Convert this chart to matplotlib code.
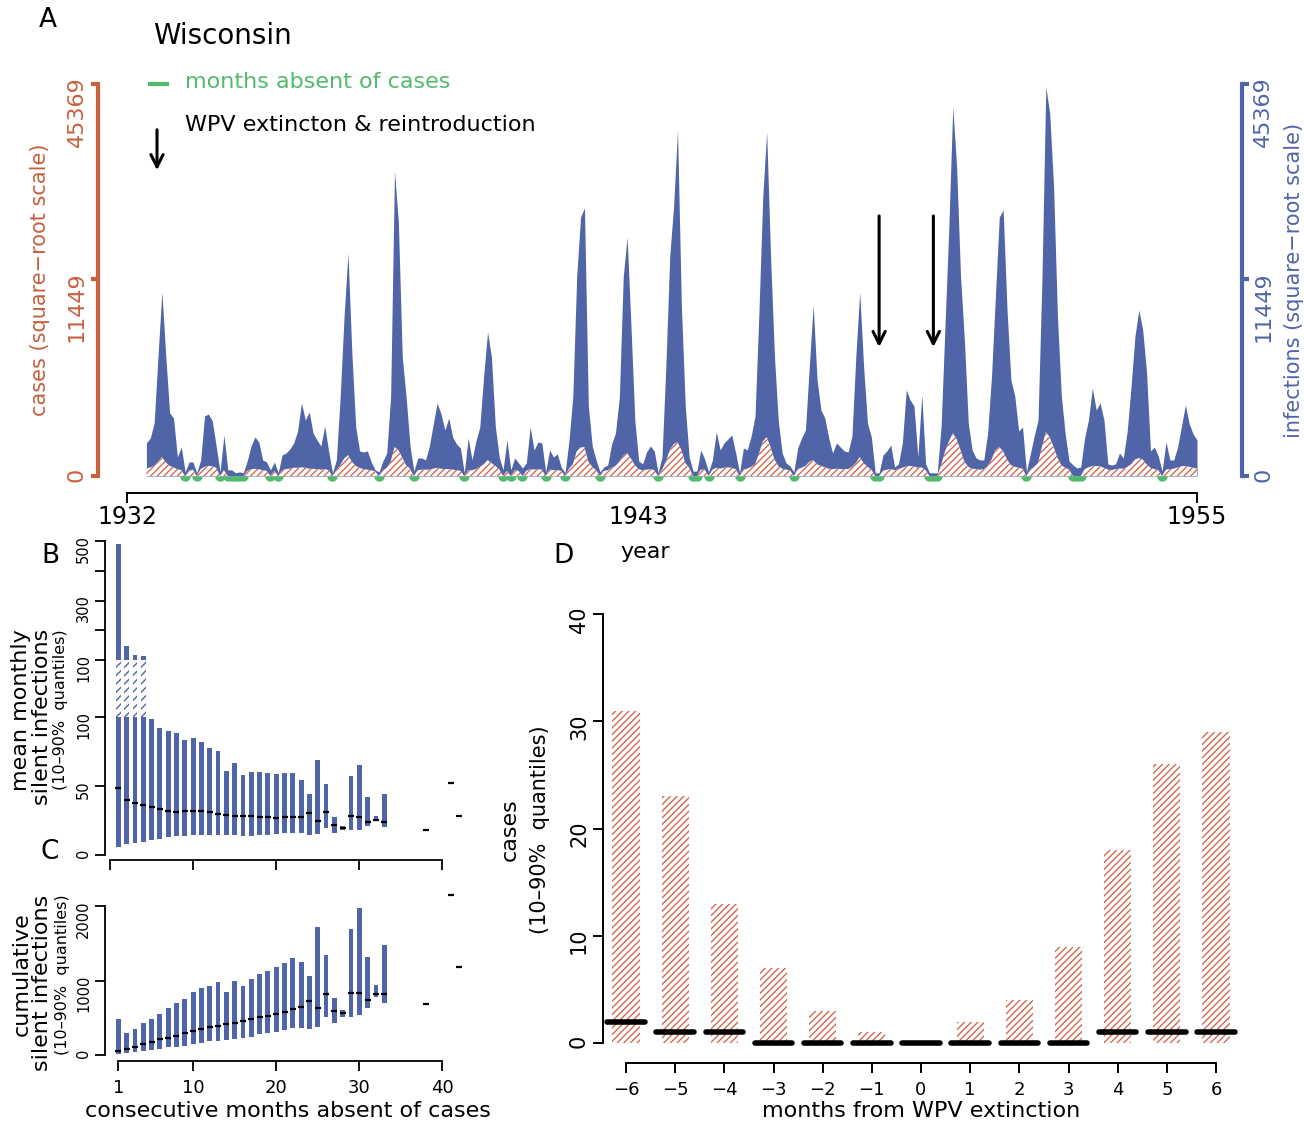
import numpy as np
import matplotlib
matplotlib.use('Agg')
import matplotlib.pyplot as plt
from matplotlib.lines import Line2D

plt.rcParams['font.family'] = ['DejaVu Sans']
plt.rcParams['hatch.linewidth'] = 1.0

# ---------------- data ----------------
state = "Wisconsin"
start_year = 1932
start_month = 6  # first month of the monthly series (June 1932)

infections = [
    322, 426, 830, 4252, 9998, 4252, 1172, 993, 107, 248, 5, 58,
    58, 3, 76, 1063, 1135, 893, 266, 5, 496, 11, 11, 3,
    5, 3, 66, 266, 449, 341, 76, 58, 11, 58, 3, 130,
    156, 215, 322, 598, 1574, 926, 1210, 546, 383, 266, 738, 185,
    3, 76, 1890, 7560, 14686, 4468, 709, 185, 170, 185, 58, 11,
    5, 66, 156, 1843, 27470, 19000, 4182, 1843, 266, 7, 96, 96,
    76, 266, 799, 1574, 1135, 625, 993, 449, 302, 232, 3, 426,
    76, 362, 709, 2953, 6123, 4182, 738, 107, 11, 383, 11, 96,
    50, 19, 50, 709, 200, 341, 322, 5, 200, 107, 143, 24,
    3, 362, 1890, 11812, 19809, 21209, 1447, 266, 76, 5, 24, 36,
    302, 546, 1843, 11694, 16867, 6644, 893, 66, 43, 170, 266, 185,
    3, 107, 3573, 14293, 21527, 35352, 8534, 1447, 107, 7, 7, 200,
    85, 5, 76, 572, 200, 322, 404, 496, 156, 3, 232, 200,
    472, 1063, 7846, 23151, 34945, 14293, 4252, 893, 156, 50, 30, 5,
    232, 426, 625, 3573, 8635, 2722, 1286, 993, 426, 156, 322, 248,
    185, 170, 472, 4252, 9998, 3573, 830, 449, 3, 3, 130, 185,
    284, 24, 43, 322, 2184, 1706, 1447, 107, 1937, 43, 3, 3,
    3, 738, 6644, 18456, 40209, 28196, 11812, 5462, 830, 200, 96, 76,
    76, 546, 2953, 9567, 19809, 20894, 8137, 2722, 1890, 598, 709, 5,
    143, 472, 926, 11344, 44686, 38912, 24835, 7560, 1890, 521, 66, 36,
    19, 24, 426, 926, 2287, 1286, 1574, 926, 43, 36, 43, 156,
    96, 598, 2392, 5788, 8137, 6295, 3133, 185, 248, 118, 7, 341,
    76, 76, 248, 738, 1489, 799, 521, 383,
]

cases = [
    16, 22, 30, 60, 107, 55, 30, 22, 14, 10, 0, 8,
    12, 0, 14, 25, 30, 28, 20, 0, 10, 0, 0, 0,
    0, 0, 8, 14, 15, 14, 10, 8, 0, 8, 0, 10,
    14, 16, 20, 20, 22, 20, 16, 15, 14, 12, 14, 10,
    0, 10, 35, 90, 130, 60, 30, 20, 14, 12, 10, 6,
    0, 10, 20, 60, 248, 200, 100, 35, 16, 0, 10, 12,
    12, 12, 16, 20, 16, 14, 14, 12, 10, 8, 0, 10,
    10, 14, 25, 40, 76, 50, 30, 14, 0, 8, 0, 10,
    8, 0, 8, 14, 12, 14, 12, 0, 12, 10, 10, 8,
    0, 16, 40, 180, 240, 248, 60, 25, 10, 0, 8, 10,
    20, 30, 60, 120, 156, 90, 35, 14, 10, 12, 14, 10,
    0, 12, 60, 200, 300, 341, 200, 50, 20, 0, 0, 12,
    12, 0, 12, 20, 16, 20, 22, 20, 14, 0, 12, 16,
    25, 40, 150, 350, 449, 250, 80, 30, 16, 12, 10, 0,
    14, 20, 30, 60, 76, 40, 30, 22, 16, 14, 16, 14,
    14, 14, 25, 50, 107, 50, 25, 12, 0, 0, 8, 12,
    14, 10, 14, 20, 28, 30, 26, 20, 22, 10, 0, 0,
    0, 35, 180, 350, 546, 400, 200, 60, 25, 16, 14, 12,
    14, 30, 80, 200, 248, 180, 80, 35, 25, 20, 16, 0,
    12, 25, 50, 250, 572, 450, 250, 100, 35, 20, 12, 0,
    0, 0, 14, 22, 30, 30, 28, 20, 12, 10, 14, 16,
    16, 25, 40, 80, 96, 80, 40, 20, 14, 10, 0, 12,
    14, 16, 22, 28, 30, 25, 20, 16,
]

wpv_event_index = [189, 203]          # months of WPV extinction & reintroduction
axis_ticks_A = [0, 11449, 45369]
year_ticks = [1932, 1943, 1955]

# panel B / C : runs of consecutive months absent of cases
run_months = list(range(1, 34)) + [38, 41, 42]
mean_q10 = [5.8, 7.8, 8.7, 9.7, 10.7, 11.7, 13.1, 13.6, 13.6, 14.6, 14.6, 14.6, 14.6, 14.6, 14.6,
            13.6, 13.6, 14.6, 14.6, 15.5, 16, 16, 16.3, 14.6, 15, 19.9, 15.8, 18.2, 18.4, 18,
            20.9, 24.3, 20.6, 18, 52.2, 28.2]
mean_q90 = [490, 147, 117, 113, 98.3, 92.2, 89.8, 88.3, 83.5, 84.7, 81.6, 77.7, 75.5, 60.7, 66.7,
            58, 60, 60.4, 59.5, 58.5, 59.2, 59.2, 54.6, 44.2, 68.9, 51.5, 27.7, 21.1, 57.5, 65.3,
            41.7, 28.4, 44.2, 18, 52.2, 28.2]
mean_med = [48.5, 39.8, 37.4, 35.9, 34.7, 33, 32, 30.8, 32, 32, 32, 30.8, 29.6, 28.9, 27.9,
            28.4, 27.9, 27.7, 27.2, 26.7, 27.2, 27.7, 27.7, 30.6, 24.8, 30.8, 21.8, 19.9, 28.4, 27.7,
            23.8, 25.2, 24, 18, 52.2, 28.2]

cum_q10 = [13, 31, 45, 58, 67, 76, 103, 112, 121, 148, 166, 184, 193, 202, 215, 224, 247, 283,
           291, 314, 336, 359, 359, 345, 381, 516, 435, 507, 516, 538, 637, 785, 695, 686, 2152, 1188]
cum_q90 = [484, 291, 350, 426, 484, 547, 628, 704, 749, 843, 897, 933, 978, 852, 1000, 933, 1018,
           1090, 1135, 1179, 1242, 1309, 1256, 1063, 1717, 1345, 762, 605, 1691, 1973, 1323, 942,
           1480, 686, 2152, 1188]
cum_med = [49, 81, 112, 143, 179, 211, 233, 256, 291, 323, 350, 377, 395, 417, 426, 462, 484, 507,
           529, 552, 574, 614, 641, 731, 628, 821, 592, 570, 830, 839, 740, 816, 816, 686, 2152, 1188]

# panel D
d_months = [-6, -5, -4, -3, -2, -1, 0, 1, 2, 3, 4, 5, 6]
d_q10 = [0, 0, 0, 0, 0, 0, 0, 0, 0, 0, 0, 0, 0]
d_q90 = [31, 23, 13, 7, 3, 1, 0, 2, 4, 9, 18, 26, 29]
d_med = [2, 1, 1, 0, 0, 0, 0, 0, 0, 0, 1, 1, 1]

# ---------------- style ----------------
BLUE = '#5064A8'
RED = '#C8603F'
RED_H = '#D4694F'
GREEN = '#52BA6C'

W, H = 1304, 1124
fig = plt.figure(figsize=(W / 100, H / 100), dpi=100)


def add_ax(l, t, r, b):
    return fig.add_axes([l / W, 1 - b / H, (r - l) / W, (b - t) / H])


def fwd(v):
    v = np.asarray(v, dtype=float)
    return np.sign(v) * np.sqrt(np.abs(v))


def inv(y):
    y = np.asarray(y, dtype=float)
    return np.sign(y) * y ** 2


# ---------------- panel A ----------------
inf = np.array(infections, float)
cas = np.array(cases, float)
n = len(inf)
t = start_year + (start_month - 1) / 12 + np.arange(n) / 12

axA = add_ax(98, 60, 1242, 500)
pxyr = (1197 - 127) / 23
axA.set_xlim(1932 - (127 - 98) / pxyr, 1955 + (1242 - 1197) / pxyr)
axA.set_yscale('function', functions=(fwd, inv))
sc = 392 / np.sqrt(45369)
ylimA = (-(24 / sc) ** 2, ((476 - 60) / sc) ** 2)
axA.set_ylim(*ylimA)

axA.fill_between(t, 0, inf, color=BLUE, lw=0, zorder=2)
axA.fill_between(t, 0, cas, facecolor='white', edgecolor=RED_H, hatch='/////', lw=0, zorder=3)
zero = cas == 0
axA.plot(t[zero], np.zeros(zero.sum()), ls='none', marker='o', ms=7.5, fillstyle='bottom',
         markerfacecoloralt='none', color=GREEN, mew=0, clip_on=False, zorder=4)

for idx in wpv_event_index:
    axA.annotate('', xy=(t[idx], 4700), xytext=(t[idx], 20400),
                 arrowprops=dict(arrowstyle='->', lw=2.2, color='black', mutation_scale=22))

for s in ['top', 'right']:
    axA.spines[s].set_visible(False)
axA.spines['left'].set_bounds(0, 45369)
axA.spines['left'].set_color(RED)
axA.spines['left'].set_linewidth(3)
axA.set_yticks(axis_ticks_A)
axA.set_yticklabels([str(v) for v in axis_ticks_A])
axA.tick_params(axis='y', colors=RED, width=3, length=5, labelsize=16, labelrotation=90, pad=3)
axA.set_ylabel('cases (square\u2212root scale)', color=RED, fontsize=15, labelpad=12)

axA.spines['bottom'].set_bounds(1932, 1955)
axA.spines['bottom'].set_position(('axes', 7 / 440))
axA.spines['bottom'].set_linewidth(1.4)
axA.set_xticks(year_ticks)
axA.set_xticklabels([str(y) for y in year_ticks])
axA.tick_params(axis='x', width=1.4, length=7, labelsize=17, pad=2)
axA.xaxis.get_major_ticks()[1].tick1line.set_visible(False)

axR = axA.twinx()
axR.set_yscale('function', functions=(fwd, inv))
axR.set_ylim(*ylimA)
for s in ['top', 'left', 'bottom']:
    axR.spines[s].set_visible(False)
axR.spines['right'].set_bounds(0, 45369)
axR.spines['right'].set_color(BLUE)
axR.spines['right'].set_linewidth(3)
axR.set_yticks(axis_ticks_A)
axR.set_yticklabels([str(v) for v in axis_ticks_A])
axR.tick_params(axis='y', colors=BLUE, width=3, length=5, labelsize=16, labelrotation=90, pad=3)
axR.set_ylabel('infections (square\u2212root scale)', color=BLUE, fontsize=15, labelpad=8)

fig.text(153 / W, 1 - 36 / H, state, fontsize=20, ha='left', va='center')
fig.add_artist(Line2D([150 / W, 167 / W], [1 - 84 / H, 1 - 84 / H], color=GREEN, lw=3))
fig.text(185 / W, 1 - 82 / H, 'months absent of cases', color=GREEN, fontsize=16, ha='left', va='center')
fig.text(185 / W, 1 - 125 / H, 'WPV extincton & reintroduction', color='black', fontsize=16,
         ha='left', va='center')
axA.annotate('', xy=(157, H - 173), xytext=(157, H - 127), xycoords='figure pixels',
             textcoords='figure pixels',
             arrowprops=dict(arrowstyle='->', lw=2.2, color='black', mutation_scale=22))
fig.text(645 / W, 1 - 552 / H, 'year', fontsize=16, ha='center', va='center')

# ---------------- panels B and C ----------------
rm = np.array(run_months, float)
mq10, mq90, mmed = map(np.array, (mean_q10, mean_q90, mean_med))
pxu = 8.31
xlimBC = (-5 / pxu, (470 - 110) / pxu)
bw = 0.58

B1 = add_ax(105, 717, 470, 860)
Bm = add_ax(105, 660, 470, 717)
B2 = add_ax(105, 541, 470, 660)
for ax in (B1, Bm, B2):
    ax.set_xlim(*xlimBC)
    for s in ['top', 'right']:
        ax.spines[s].set_visible(False)
    ax.spines['left'].set_linewidth(1.3)
    ax.patch.set_alpha(0)

B1.set_ylim(-5 / 1.38, 100)
B1.bar(rm, mq90 - mq10, bottom=mq10, width=bw, color=BLUE, lw=0)
B1.plot(rm, mmed, ls='none', marker='_', ms=5, mew=1.6, color='black', clip_on=False, zorder=5)
B1.spines['left'].set_bounds(0, 100)
B1.set_yticks([0, 50, 100])
B1.spines['bottom'].set_bounds(0, 40)
B1.spines['bottom'].set_linewidth(1.3)
B1.set_xticks([0, 10, 20, 30, 40])
B1.set_xticklabels([])
B1.tick_params(axis='x', length=7, width=1.3)

over = mq90 > 100
Bm.set_ylim(0, 1)
Bm.bar(rm[over], np.ones(over.sum()), bottom=0, width=bw, facecolor='white', edgecolor=BLUE,
       hatch='////', lw=0)
Bm.spines['bottom'].set_visible(False)
Bm.set_xticks([])
Bm.set_yticks([])

B2.set_ylim(100, 500)
B2.bar(rm[over], mq90[over] - 100, bottom=100, width=bw, color=BLUE, lw=0)
B2.spines['bottom'].set_visible(False)
B2.spines['left'].set_bounds(100, 500)
B2.set_yticks([100, 200, 300, 400, 500])
B2.set_yticklabels(['100', '', '300', '', '500'])
B2.set_xticks([])
for ax in (B1, B2):
    ax.tick_params(axis='y', labelsize=10.5, labelrotation=90, length=7, width=1.3, pad=3)

cq10, cq90, cmed = map(np.array, (cum_q10, cum_q90, cum_med))
C = add_ax(105, 890, 470, 1061)
C.set_xlim(*xlimBC)
C.set_ylim(-6 / 0.0743, (1055 - 890) / 0.0743)
C.bar(rm, cq90 - cq10, bottom=cq10, width=bw, color=BLUE, lw=0)
C.plot(rm, cmed, ls='none', marker='_', ms=5, mew=1.6, color='black', clip_on=False, zorder=5)
for s in ['top', 'right']:
    C.spines[s].set_visible(False)
C.spines['left'].set_bounds(0, 2000)
C.spines['left'].set_linewidth(1.3)
C.spines['bottom'].set_bounds(1, 40)
C.spines['bottom'].set_linewidth(1.3)
C.set_yticks([0, 1000, 2000])
C.set_xticks([1, 10, 20, 30, 40])
C.tick_params(axis='y', labelsize=10.5, labelrotation=90, length=7, width=1.3, pad=3)
C.tick_params(axis='x', labelsize=13, length=7, width=1.3, pad=6)
C.patch.set_alpha(0)

fig.text(288 / W, 1 - 1111 / H, 'consecutive months absent of cases', fontsize=16,
         ha='center', va='center')
for (x, y, s, fs) in [(21, 710, 'mean monthly', 16), (42, 717, 'silent infections', 16),
                      (61, 710, '(10\u201390%  quantiles)', 11.5),
                      (22, 974, 'cumulative', 16), (42, 983, 'silent infections', 16),
                      (63, 975, '(10\u201390%  quantiles)', 11.5)]:
    fig.text(x / W, 1 - y / H, s, fontsize=fs, rotation=90, ha='center', va='center')

# ---------------- panel D ----------------
D = add_ax(603, 605, 1240, 1063)
pxd = (1216 - 626) / 12
D.set_xlim((603 - 921) / pxd, (1240 - 921) / pxd)
D.set_ylim(-(1063 - 1043) / 10.72, (1043 - 605) / 10.72)
dm = np.array(d_months, float)
D.bar(dm, np.array(d_q90) - np.array(d_q10), bottom=d_q10, width=0.55, facecolor='white',
      edgecolor=RED_H, hatch='/////', lw=0)
D.hlines(d_med, dm - 0.38, dm + 0.38, color='black', lw=4, capstyle='round', zorder=4)
for s in ['top', 'right']:
    D.spines[s].set_visible(False)
D.spines['left'].set_bounds(0, 40)
D.spines['left'].set_linewidth(1.4)
D.spines['bottom'].set_bounds(-6, 6)
D.spines['bottom'].set_linewidth(1.4)
D.set_yticks([0, 10, 20, 30, 40])
D.set_xticks(d_months)
D.tick_params(axis='y', labelsize=15, labelrotation=90, length=7, width=1.4, pad=3)
D.tick_params(axis='x', labelsize=13, length=7, width=1.4, pad=6)
D.patch.set_alpha(0)
fig.text(921 / W, 1 - 1111 / H, 'months from WPV extinction', fontsize=16, ha='center', va='center')
fig.text(510 / W, 1 - 830 / H, 'cases', fontsize=16, rotation=90, ha='center', va='center')
fig.text(540 / W, 1 - 830 / H, '(10\u201390%  quantiles)', fontsize=15, rotation=90,
         ha='center', va='center')

# panel letters
for (x, y, s) in [(48, 20, 'A'), (50, 556, 'B'), (50, 852, 'C'), (563, 556, 'D')]:
    fig.text(x / W, 1 - y / H, s, fontsize=19, ha='center', va='center')

fig.savefig('out.png', dpi=100)
